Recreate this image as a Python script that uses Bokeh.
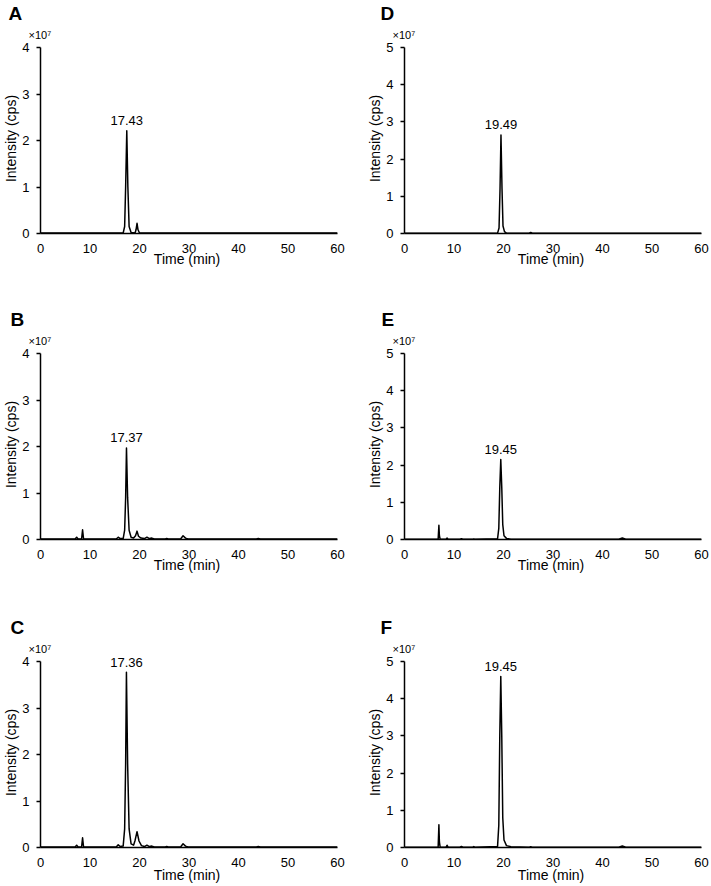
from bokeh.plotting import figure
from bokeh.models import Range1d, FixedTicker, Label, Title
from bokeh.layouts import column, row
from bokeh.embed import file_html
from bokeh.resources import INLINE

FONT = "Liberation Sans"

x_ticks = [0, 10, 20, 30, 40, 50, 60]
y_ticks_4 = [0, 1, 2, 3, 4]
y_ticks_5 = [0, 1, 2, 3, 4, 5]

# Intensities in units of 10^7 cps
A_time = [0, 16.7, 17.0, 17.2, 17.43, 17.65, 17.9, 18.3, 19.1, 19.3, 19.5, 19.7, 20.0, 60]
A_int = [0.01, 0.01, 0.15, 1.0, 2.21, 1.0, 0.15, 0.02, 0.01, 0.08, 0.22, 0.08, 0.01, 0.01]

B_time = [0, 7.0, 7.3, 7.6, 8.3, 8.5, 8.7, 15.3, 15.7, 16.1, 16.7, 17.0, 17.2, 17.37, 17.6, 17.9,
          18.3, 18.8, 19.2, 19.5, 19.8, 20.3, 21.0, 21.5, 22.0, 22.5, 23.0, 25.2, 25.5, 25.8,
          28.3, 28.8, 29.3, 29.8, 43.6, 44.0, 44.4, 60]
B_int = [0.01, 0.01, 0.05, 0.01, 0.01, 0.21, 0.01, 0.01, 0.05, 0.02, 0.02, 0.2, 0.9, 1.97, 0.9, 0.2,
         0.05, 0.03, 0.08, 0.18, 0.07, 0.03, 0.02, 0.05, 0.02, 0.03, 0.01, 0.01, 0.02, 0.01,
         0.01, 0.08, 0.03, 0.01, 0.01, 0.02, 0.01, 0.01]

C_time = [0, 7.0, 7.3, 7.6, 8.3, 8.5, 8.7, 15.3, 15.7, 16.1, 16.7, 17.0, 17.2, 17.36, 17.6, 17.9,
          18.3, 18.8, 19.1, 19.5, 19.9, 20.4, 21.0, 21.5, 22.0, 22.5, 23.0, 25.2, 25.5, 25.8,
          28.3, 28.8, 29.3, 29.8, 43.6, 44.0, 44.4, 60]
C_int = [0.01, 0.01, 0.05, 0.01, 0.01, 0.21, 0.01, 0.01, 0.06, 0.02, 0.03, 0.4, 1.8, 3.77, 1.8, 0.4,
         0.08, 0.05, 0.15, 0.34, 0.14, 0.04, 0.02, 0.05, 0.02, 0.03, 0.01, 0.01, 0.02, 0.01,
         0.01, 0.08, 0.03, 0.01, 0.01, 0.02, 0.01, 0.01]

D_time = [0, 18.8, 19.1, 19.3, 19.49, 19.7, 19.9, 20.2, 20.6, 25.2, 25.5, 25.8, 60]
D_int = [0.01, 0.01, 0.15, 1.2, 2.65, 1.2, 0.2, 0.05, 0.01, 0.01, 0.03, 0.01, 0.01]

E_time = [0, 6.8, 6.95, 7.05, 7.2, 8.4, 8.6, 8.8, 11.2, 11.5, 11.8, 13.8, 14.0, 14.2, 18.8, 19.05,
          19.25, 19.45, 19.65, 19.85, 20.1, 20.6, 21.5, 43.3, 44.0, 44.7, 60]
E_int = [0.01, 0.01, 0.38, 0.1, 0.01, 0.01, 0.04, 0.01, 0.01, 0.02, 0.01, 0.01, 0.015, 0.01, 0.02, 0.3,
         1.4, 2.15, 1.4, 0.4, 0.1, 0.03, 0.01, 0.01, 0.04, 0.01, 0.01]

F_time = [0, 6.8, 6.95, 7.05, 7.2, 8.4, 8.6, 8.8, 11.2, 11.5, 11.8, 13.8, 14.0, 14.2, 18.8, 19.05,
          19.25, 19.45, 19.65, 19.85, 20.1, 20.6, 21.5, 25.2, 25.5, 25.8, 43.3, 44.0, 44.7, 60]
F_int = [0.01, 0.01, 0.61, 0.15, 0.01, 0.01, 0.06, 0.01, 0.01, 0.03, 0.01, 0.01, 0.025, 0.01, 0.03, 0.6,
         3.0, 4.6, 3.0, 0.8, 0.2, 0.05, 0.02, 0.01, 0.02, 0.01, 0.01, 0.04, 0.01, 0.01]

peak_times = {"A": 17.43, "B": 17.37, "C": 17.36, "D": 19.49, "E": 19.45, "F": 19.45}
peak_heights = {"A": 2.21, "B": 1.97, "C": 3.77, "D": 2.65, "E": 2.15, "F": 4.6}
peak_labels = {"A": "17.43", "B": "17.37", "C": "17.36", "D": "19.49", "E": "19.45", "F": "19.45"}

FRAME_W = 297
AXIS_H = 186      # pixel height of the 0..ymax axis
PAD = 4           # extra frame room above the top tick (for peak labels)


def make_panel(letter, t, inten, yticks, letter_off, left, right, top, bottom, xlab_standoff):
    ymax = yticks[-1]
    p = figure(frame_width=FRAME_W, frame_height=AXIS_H + PAD,
               x_range=Range1d(0, 60), y_range=Range1d(0, ymax * (AXIS_H + PAD) / AXIS_H),
               output_backend="svg", toolbar_location=None,
               min_border_left=left, min_border_right=right,
               min_border_top=top, min_border_bottom=bottom)
    p.outline_line_color = None
    p.grid.visible = False
    p.background_fill_color = "white"
    p.border_fill_color = "white"

    p.line(t, inten, line_color="black", line_width=1.5, line_join="round")

    xa = p.xaxis[0]
    xa.ticker = FixedTicker(ticks=x_ticks)
    xa.major_tick_out = 0
    xa.major_tick_in = 0
    xa.minor_tick_out = 0
    xa.minor_tick_in = 0
    xa.axis_line_width = 1.5
    xa.axis_line_color = "black"
    xa.major_label_text_font = FONT
    xa.major_label_text_font_size = "13px"
    xa.major_label_text_color = "black"
    xa.major_label_standoff = 10
    xa.axis_label = "Time  (min)"
    xa.axis_label_text_font = FONT
    xa.axis_label_text_font_size = "14px"
    xa.axis_label_text_font_style = "normal"
    xa.axis_label_text_color = "black"
    xa.axis_label_standoff = xlab_standoff

    ya = p.yaxis[0]
    ya.ticker = FixedTicker(ticks=yticks)
    ya.bounds = (0, ymax)
    ya.major_tick_out = 4
    ya.major_tick_in = 0
    ya.minor_tick_out = 0
    ya.minor_tick_in = 0
    ya.major_tick_line_width = 1.5
    ya.axis_line_width = 1.5
    ya.axis_line_color = "black"
    ya.major_label_text_font = FONT
    ya.major_label_text_font_size = "13px"
    ya.major_label_text_color = "black"
    ya.major_label_standoff = 7
    ya.axis_label = "Intensity (cps)"
    ya.axis_label_text_font = FONT
    ya.axis_label_text_font_size = "14px"
    ya.axis_label_text_font_style = "normal"
    ya.axis_label_text_color = "black"
    ya.axis_label_standoff = 0

    # scale factor (closest to the frame)
    p.add_layout(Title(text="\u00d710\u2077", align="left", offset=-12, standoff=6,
                       text_font=FONT, text_font_size="11px", text_font_style="normal",
                       text_color="black"), "above")
    # panel letter
    p.add_layout(Title(text=letter, align="left", offset=letter_off, standoff=0,
                       text_font=FONT, text_font_size="19px", text_font_style="bold",
                       text_color="black"), "above")

    # retention time label, lifted above the apex
    p.add_layout(Label(x=peak_times[letter], y=peak_heights[letter], text=peak_labels[letter],
                       y_offset=10, text_align="center", text_baseline="alphabetic",
                       text_font=FONT, text_font_size="13px", text_color="black"))
    return p


L = 40
pA = make_panel("A", A_time, A_int, y_ticks_4, -32, L, 27, 42, 73, -5)
pD = make_panel("D", D_time, D_int, y_ticks_5, -24, L, 9, 42, 73, -5)
pB = make_panel("B", B_time, B_int, y_ticks_4, -30, L, 27, 42, 75, -5)
pE = make_panel("E", E_time, E_int, y_ticks_5, -23, L, 9, 42, 75, -5)
pC = make_panel("C", C_time, C_int, y_ticks_4, -30, L, 27, 42, 41, -3)
pF = make_panel("F", F_time, F_int, y_ticks_5, -24, L, 9, 42, 41, -3)

layout = column(row(pA, pD), row(pB, pE), row(pC, pF))

open("out.html", "w").write(file_html(layout, INLINE))
